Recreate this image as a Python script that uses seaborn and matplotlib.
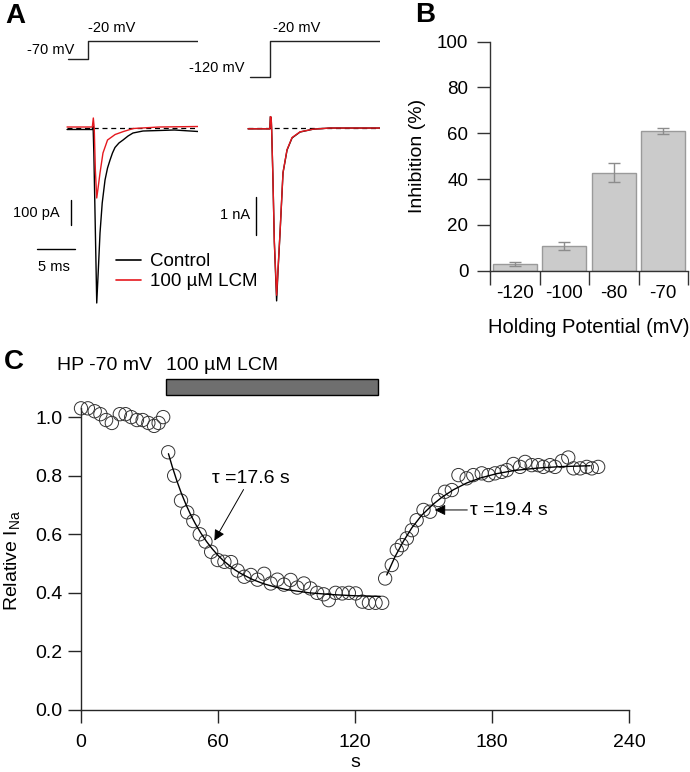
import numpy as np
import pandas as pd
import matplotlib
matplotlib.use("Agg")
import matplotlib.pyplot as plt
from matplotlib.patches import Rectangle
from matplotlib.lines import Line2D
import seaborn as sns

# data -------------------------------------------------------------------------

# panel A: voltage protocols (ms, mV)
step_t = [0.0, 2.63, 2.63, 17.1]
step_v_hp70 = [-70, -70, -20, -20]
step_v_hp120 = [-120, -120, -20, -20]

# panel A: currents from HP -70 mV (ms, pA)
hp70_ctrl_t = [-0.13, 3.2, 3.3, 3.4, 3.78, 4.0, 4.21, 4.5, 4.87, 5.2, 5.53, 5.85,
               6.18, 6.7, 7.24, 7.9, 8.55, 9.87, 12.0, 14.0, 17.1]
hp70_ctrl_i = [-6, -6, 8, -100, -700, -560, -420, -300, -208, -160, -128, -100,
               -78, -60, -48, -32, -20, -12, -10, -8, -14]
hp70_lcm_t = [-0.13, 3.2, 3.33, 3.45, 3.6, 3.78, 4.0, 4.21, 4.6, 5.2, 6.2, 7.3,
              8.6, 12.0, 17.1]
hp70_lcm_i = [4, 4, 40, 0, -170, -280, -230, -180, -100, -48, -26, -14,
              -2, 4, 6]

# panel A: currents from HP -120 mV (ms, nA)
hp120_t = [-0.26, 2.6, 2.68, 2.78, 2.84, 3.0, 3.2, 3.5, 3.7, 3.95, 4.34, 4.87,
           5.53, 6.58, 8.29, 10.5, 17.1]
hp120_ctrl_i = [-0.02, -0.02, 0.3, 0.28, 0.0, -1.2, -3.0, -4.55, -3.7, -2.76,
                -1.18, -0.58, -0.26, -0.105, -0.03, 0.0, 0.0]
hp120_lcm_i = [-0.02, -0.02, 0.3, 0.28, 0.0, -1.2, -3.0, -4.4, -3.65, -2.74,
               -1.17, -0.57, -0.25, -0.1, -0.03, 0.0, 0.0]

# panel B: inhibition vs holding potential
holding_mv = ["-120", "-100", "-80", "-70"]
inhibition = [2.9, 10.8, 42.8, 61.1]
inhibition_sem = [0.8, 1.8, 4.2, 1.3]

# panel C: relative INa over time (s)
t_control = [0.0, 3.0, 6.0, 8.5, 11.0, 13.5, 17.0, 19.5, 22.0, 24.5, 27.0, 29.5,
             32.0, 34.0, 36.0]
ina_control = [1.03, 1.03, 1.02, 1.01, 0.99, 0.98, 1.01, 1.01, 1.00, 0.99, 0.99,
               0.98, 0.97, 0.98, 1.00]
t_lcm = [38.2, 40.8, 43.8, 46.5, 49.2, 52.0, 54.5, 57.0, 59.9, 62.8, 65.7, 68.6,
         71.5, 74.4, 77.3, 80.2, 83.1, 86.0, 88.9, 91.8, 94.7, 97.6, 100.5, 103.4,
         106.3, 108.5, 111.5, 114.4, 117.3, 120.3, 123.2, 126.1, 129.0, 131.9]
ina_lcm = [0.88, 0.80, 0.715, 0.675, 0.645, 0.60, 0.575, 0.54, 0.512, 0.506,
           0.505, 0.476, 0.455, 0.461, 0.445, 0.465, 0.432, 0.445, 0.428, 0.444,
           0.418, 0.432, 0.415, 0.40, 0.395, 0.375, 0.40, 0.398, 0.40, 0.398,
           0.37, 0.366, 0.366, 0.366]
t_wash = [133.2, 136.1, 138.3, 140.5, 142.7, 144.9, 147.0, 150.0, 152.9, 156.5,
          159.4, 162.4, 165.3, 168.9, 171.8, 175.5, 178.5, 181.3, 184.3, 186.5,
          189.4, 192.3, 194.5, 197.4, 200.3, 202.5, 205.4, 207.6, 210.6, 213.4,
          215.7, 218.6, 221.5, 223.7, 226.5]
ina_wash = [0.449, 0.495, 0.546, 0.563, 0.586, 0.614, 0.648, 0.683, 0.677, 0.717,
            0.745, 0.751, 0.802, 0.791, 0.802, 0.808, 0.802, 0.808, 0.813, 0.819,
            0.84, 0.83, 0.847, 0.836, 0.836, 0.83, 0.836, 0.83, 0.85, 0.862,
            0.825, 0.825, 0.83, 0.825, 0.83]

# exponential fits as drawn on the chart
fit_on_t = [38.3, 40, 42, 44, 46, 48, 50, 52.5, 55, 57.5, 60, 62.5, 65, 67.5,
            70, 75, 80, 85, 90, 100, 110, 120, 131]
fit_on_v = [0.875, 0.830, 0.782, 0.739, 0.701, 0.667, 0.637, 0.604, 0.575, 0.550,
            0.528, 0.509, 0.493, 0.478, 0.466, 0.446, 0.431, 0.420, 0.411, 0.400,
            0.394, 0.390, 0.388]
fit_off_t = [133.9, 137.5, 141.2, 144.9, 149.2, 154.3, 158.0, 163.1, 168.9, 174.8,
             182.1, 190, 200, 210, 223]
fit_off_v = [0.461, 0.523, 0.576, 0.622, 0.665, 0.703, 0.726, 0.752, 0.775, 0.792,
             0.807, 0.818, 0.826, 0.831, 0.834]

drug_on, drug_off = 37.3, 130.1   # s

# style -------------------------------------------------------------------------
sns.set_style("ticks")
plt.rcParams["font.family"] = ["Liberation Sans", "DejaVu Sans"]
plt.rcParams["axes.linewidth"] = 1.0
for key in ["text.color", "axes.labelcolor", "xtick.labelcolor", "ytick.labelcolor"]:
    plt.rcParams[key] = "black"

red = "#e5191f"
W, H = 690, 772
fig = plt.figure(figsize=(W / 100, H / 100), dpi=100)


def px_axes(left, top, right, bottom):
    return fig.add_axes([left / W, 1 - bottom / H, (right - left) / W, (bottom - top) / H])


# panel A -------------------------------------------------------------------------
t_lim = (-7.63, 17.1)
for left, right, step_v, low_label, low_x in [(10, 198, step_v_hp70, "-70 mV", 0.9),
                                             (200, 380, step_v_hp120, "-120 mV", -0.7)]:
    xlim = (t_lim[0] if left == 10 else -6.58, 17.1)
    axv = px_axes(left, 15, right, 95)
    sns.lineplot(x=step_t, y=step_v, sort=False, estimator=None, color="#222222",
                 lw=1.0, ax=axv)
    axv.set_xlim(*xlim)
    axv.set_ylim(-170, 52)
    axv.text(low_x, step_v[0] + 25, low_label, ha="right", va="center", fontsize=10.5)
    axv.text(step_t[1] + (0.05 if left == 10 else 0.4), 16, "-20 mV", ha="left",
             va="center", fontsize=10.5)
    axv.axis("off")

# left currents
axA1 = px_axes(10, 95, 198, 310)
axA1.hlines(0, -0.13, 17.1, colors="k", linestyles=(0, (4, 3)), lw=0.9)
sns.lineplot(x=hp70_ctrl_t, y=hp70_ctrl_i, sort=False, estimator=None, color="k",
             lw=1.0, ax=axA1)
sns.lineplot(x=hp70_lcm_t, y=hp70_lcm_i, sort=False, estimator=None, color=red,
             lw=1.0, ax=axA1)
axA1.set_xlim(*t_lim)
axA1.set_ylim(-728, 132)
axA1.plot([0.39, 0.39], [-288, -388], color="k", lw=1.0)
axA1.text(-1.05, -340, "100 pA", ha="right", va="center", fontsize=10.5)
axA1.plot([-4.08, 0.92], [-484, -484], color="k", lw=1.0)
axA1.text(-1.84, -556, "5 ms", ha="center", va="center", fontsize=10.5)
axA1.axis("off")

# right currents
axA2 = px_axes(200, 95, 380, 310)
axA2.hlines(0, -0.26, 17.1, colors="k", linestyles=(0, (4, 3)), lw=0.9)
sns.lineplot(x=hp120_t, y=hp120_ctrl_i, sort=False, estimator=None, color="k",
             lw=1.0, ax=axA2)
sns.lineplot(x=hp120_t, y=hp120_lcm_i, sort=False, estimator=None, color=red,
             lw=1.0, ax=axA2)
axA2.set_xlim(-6.58, 17.1)
axA2.set_ylim(-4.79, 0.87)
axA2.plot([0.79, 0.79], [-1.81, -2.81], color="k", lw=1.0)
axA2.text(0.0, -2.29, "1 nA", ha="right", va="center", fontsize=10.5)
axA2.axis("off")

handles = [Line2D([], [], color="k", lw=1.2), Line2D([], [], color=red, lw=1.2)]
fig.legend(handles, ["Control", "100 \u00b5M LCM"], loc="upper left",
           bbox_to_anchor=(116 / W, 1 - 253 / H), frameon=False, fontsize=13.5,
           handlelength=1.35, handletextpad=0.45, labelspacing=0.15,
           borderpad=0, borderaxespad=0)

# panel B -------------------------------------------------------------------------
axB = px_axes(490, 41.7, 688, 270.7)
sns.barplot(x=holding_mv, y=inhibition, order=holding_mv, color="#cbcbcb",
            saturation=1, edgecolor="#9a9a9a", linewidth=1.0, width=0.89,
            errorbar=None, ax=axB)
axB.errorbar(range(len(holding_mv)), inhibition, yerr=inhibition_sem, fmt="none",
             ecolor="#8c8c8c", elinewidth=1.0, capsize=4, capthick=1.0)
axB.set_xlim(-0.5, 3.5)
axB.set_ylim(0, 100)
axB.set_yticks([0, 20, 40, 60, 80, 100])
axB.set_xticks(range(len(holding_mv)))
axB.set_xticklabels(holding_mv)
axB.set_xticks([-0.5, 0.5, 1.5, 2.5, 3.5], minor=True)
axB.tick_params(axis="x", which="major", length=0, pad=10, labelsize=13.5)
axB.tick_params(axis="x", which="minor", length=10, width=1.0, color="#333333",
                direction="out")
axB.tick_params(axis="y", length=9.5, width=1.0, pad=6, labelsize=13.5,
                color="#333333")
sns.despine(ax=axB)
for sp in ["left", "bottom"]:
    axB.spines[sp].set_color("#333333")
axB.set_ylabel("Inhibition (%)", fontsize=14, labelpad=8)
axB.set_xlabel("Holding Potential (mV)", fontsize=14.5, labelpad=12)

# panel C -------------------------------------------------------------------------
axC = px_axes(81, 360, 629, 710)
df = pd.DataFrame({
    "t": t_control + t_lcm + t_wash,
    "ina": ina_control + ina_lcm + ina_wash,
})
sns.lineplot(x=fit_on_t, y=fit_on_v, sort=False, estimator=None, color="k",
             lw=1.0, ax=axC)
sns.lineplot(x=fit_off_t, y=fit_off_v, sort=False, estimator=None, color="k",
             lw=1.0, ax=axC)
sns.scatterplot(data=df, x="t", y="ina", marker="o", s=92, facecolor="none",
                edgecolor="#333333", linewidth=0.7, clip_on=False, ax=axC)
axC.set_xlim(0, 240)
axC.set_ylim(0, 1.195)
axC.set_xticks([0, 60, 120, 180, 240])
axC.set_yticks([0, 0.2, 0.4, 0.6, 0.8, 1.0])
axC.set_yticklabels(["0.0", "0.2", "0.4", "0.6", "0.8", "1.0"])
axC.tick_params(axis="both", length=9.5, width=1.0, labelsize=14)
axC.tick_params(axis="x", pad=8)
axC.tick_params(axis="y", pad=4)
sns.despine(ax=axC)
axC.spines["left"].set_bounds(0, 1.03)
axC.set_xlabel("s", fontsize=14, labelpad=2)
axC.set_ylabel("")

axC.add_patch(Rectangle((drug_on, 1.075), drug_off - drug_on, 0.055,
                        facecolor="#6f6f6f", edgecolor="k", lw=1.0, clip_on=False))
axC.text(-10.5, 1.177, "HP -70 mV", ha="left", va="center", fontsize=14)
axC.text(drug_on, 1.177, "100 \u00b5M LCM", ha="left", va="center", fontsize=14)

axC.text(57.4, 0.792, "\u03c4 =17.6 s", ha="left", va="center", fontsize=14)
axC.annotate("", xy=(57.8, 0.57), xytext=(71.8, 0.761),
             arrowprops=dict(arrowstyle="-|>", color="k", lw=0.7, mutation_scale=16))
axC.text(170.4, 0.68, "\u03c4 =19.4 s", ha="left", va="center", fontsize=14)
axC.annotate("", xy=(153.7, 0.683), xytext=(170.4, 0.683),
             arrowprops=dict(arrowstyle="-|>", color="k", lw=0.7, mutation_scale=16))

fig.text(13 / W, 1 - 560 / H, "Relative I$_\\mathregular{Na}$", rotation=90,
         ha="center", va="center", fontsize=14)

# panel letters
fig.text(5 / W, 1 - 16 / H, "A", fontsize=20, fontweight="bold", va="center")
fig.text(415 / W, 1 - 15 / H, "B", fontsize=20, fontweight="bold", va="center")
fig.text(4 / W, 1 - 362 / H, "C", fontsize=20, fontweight="bold", va="center")

fig.savefig("out.png", dpi=100)
